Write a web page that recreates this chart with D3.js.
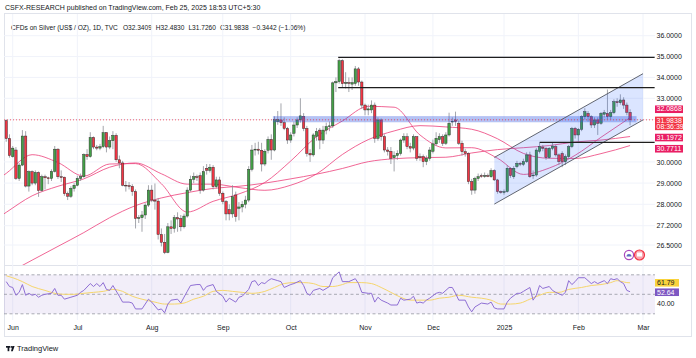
<!DOCTYPE html>
<html><head><meta charset="utf-8">
<script src="https://cdn.jsdelivr.net/npm/d3@7"></script>
<style>
body{margin:0;background:#fff}
svg{display:block}
text{font-family:"Liberation Sans",Arial,sans-serif}
</style>
</head><body>
<svg id="c" width="696" height="358"></svg>
<script>
// ---------------- DATA ----------------
const titleText = "CSFX-RESEARCH published on TradingView.com, Feb 25, 2025 18:53 UTC+5:30";
const symbolText = "CFDs on Silver (US$ / OZ), 1D, TVC";
const ohlcText = ["O32.3409", "H32.4830", "L31.7260", "C31.9838", "\u22120.3442 (\u22121.06%)"];

// daily candles, bar 0 = 30 May 2024 ... bar 193 = 25 Feb 2025
const opens = [31.95,31.1,30.25,30.56,29.22,29.85,31.22,28.86,29.54,29.0,29.5,28.65,29.3,29.25,29.22,29.55,30.6,29.3,29.28,28.5,
28.38,28.75,28.9,29.22,29.3,30.35,30.25,31.15,30.7,30.65,30.72,31.38,30.7,31.0,31.25,30.1,29.95,28.9,28.88,28.85,
28.6,27.47,27.5,27.6,27.97,28.67,28.2,28.15,26.88,26.6,26.23,27.16,27.1,27.5,27.47,27.16,27.56,28.67,29.18,29.3,
29.35,28.67,29.7,29.6,29.75,28.83,29.15,28.52,28.13,27.8,27.64,28.44,27.85,27.9,28.0,28.2,29.65,30.56,30.6,30.55,
29.9,30.55,31.06,30.56,31.9,31.98,31.85,31.58,31.03,31.35,31.74,31.98,32.14,31.58,30.4,30.33,31.2,31.5,31.03,31.5,
31.66,31.7,33.74,33.8,34.8,33.71,33.75,33.68,33.71,34.41,33.78,32.68,32.45,32.45,32.68,31.11,31.98,31.19,30.56,30.5,
30.2,30.3,30.4,31.03,31.19,30.72,30.65,31.19,30.25,30.25,30.01,30.17,30.5,30.85,31.05,31.19,30.88,31.27,31.9,31.98,
31.82,30.88,30.48,30.4,29.07,28.67,29.22,29.35,29.33,29.35,29.3,29.59,29.15,28.6,28.56,28.6,29.7,29.3,29.78,29.93,
29.88,30.01,30.33,29.35,29.38,30.5,30.7,30.64,30.2,30.64,30.72,30.33,30.4,30.01,30.25,30.72,31.58,31.27,31.54,32.13,
32.29,32.13,31.74,31.98,31.82,32.25,32.29,32.13,32.32,32.84,32.79,32.92,32.68,32.3409];
const highs = [32.0,31.3,30.75,30.7,29.95,31.5,31.45,29.6,29.6,29.6,29.55,29.4,29.4,29.3,29.65,30.75,30.65,29.6,29.3,28.6,
28.85,29.0,29.35,29.45,30.4,30.6,31.4,31.2,30.8,30.85,31.7,31.4,31.2,31.45,31.35,30.3,30.05,29.1,29.05,28.95,
28.7,27.6,27.75,28.05,28.9,28.9,28.98,28.3,27.1,26.9,27.3,27.4,27.6,27.7,27.6,27.65,28.8,29.35,29.5,29.4,
29.5,29.8,29.9,29.9,29.85,29.3,29.3,28.6,28.2,28.0,28.9,28.6,28.1,28.15,28.4,29.8,30.8,30.9,30.95,30.9,
30.6,31.2,31.3,32.15,32.4,32.76,32.1,31.65,31.4,31.9,32.1,33.0,32.3,31.7,30.6,31.35,31.6,31.6,31.7,31.85,
31.9,33.8,34.0,34.9,34.87,34.25,34.0,34.0,34.55,34.5,33.85,32.75,32.7,32.9,32.8,32.1,32.05,31.3,30.7,30.7,
30.5,30.55,31.1,31.35,31.35,30.9,31.3,31.2,30.4,30.35,30.3,30.7,31.05,31.4,31.35,31.3,31.4,32.32,32.1,32.37,
31.95,31.0,30.6,30.45,29.2,29.3,29.45,29.45,29.5,29.45,29.7,29.65,29.2,28.65,28.7,29.85,29.75,29.8,30.05,30.0,
30.15,30.45,30.48,29.6,30.65,30.95,30.8,30.7,30.7,30.9,30.8,30.4,30.5,30.35,30.8,31.65,31.65,31.6,32.2,32.53,
32.4,32.2,32.1,32.1,32.35,32.45,33.42,32.45,32.95,33.0,33.19,33.05,32.8,32.483];
const lows = [30.95,30.2,30.2,29.15,29.1,29.8,28.8,28.6,28.9,28.9,28.35,28.6,28.7,28.95,29.1,29.5,29.2,29.05,28.4,28.2,
28.3,28.6,28.85,29.1,29.25,30.1,30.2,30.6,30.55,30.55,30.65,30.45,30.6,30.6,30.0,29.7,28.85,28.6,28.7,28.4,
27.1,27.3,26.98,27.45,27.9,28.1,27.8,26.7,26.45,26.17,26.2,26.9,26.95,26.98,27.0,27.1,27.5,28.6,29.0,29.1,
28.5,28.6,29.4,29.5,28.7,28.75,28.4,28.0,27.4,27.4,27.5,27.35,27.4,27.7,27.85,28.1,29.55,30.3,30.35,29.55,
29.8,30.4,30.1,30.5,31.75,31.7,31.5,30.85,30.9,31.2,31.6,31.85,31.45,30.25,30.0,30.25,31.0,30.6,30.85,31.3,
31.45,31.6,33.3,33.7,33.5,33.47,33.3,33.4,33.6,33.6,32.5,32.2,32.2,32.3,30.9,31.0,31.0,30.45,30.3,29.9,
29.55,30.1,30.3,30.9,30.6,30.45,30.55,30.05,30.05,29.75,29.85,30.05,30.4,30.75,30.9,30.75,30.8,31.2,31.7,31.7,
30.8,30.3,30.25,28.95,28.45,28.5,29.1,29.25,29.25,29.28,29.25,29.1,28.5,28.5,28.45,28.55,29.25,29.2,29.7,29.8,
29.8,29.95,29.25,29.2,29.3,30.4,30.5,30.1,30.15,30.55,30.25,29.85,29.75,29.85,30.15,30.65,31.1,30.95,31.45,32.0,
31.9,31.6,31.6,31.27,31.75,32.1,32.0,32.0,32.25,32.6,32.7,32.5,32.2,31.726];
const closes = [31.1,30.3,30.65,29.22,29.85,31.22,28.86,29.54,29.0,29.5,28.65,29.3,29.25,29.22,29.55,30.6,29.3,29.28,28.5,28.38,
28.75,28.9,29.22,29.3,30.35,30.25,31.15,30.7,30.65,30.72,31.38,30.7,31.0,31.25,30.1,29.95,28.9,28.88,28.85,28.6,
27.47,27.5,27.6,27.97,28.67,28.2,28.15,26.88,26.6,26.23,27.16,27.1,27.5,27.45,27.16,27.56,28.67,29.18,29.3,29.28,
28.67,29.54,29.6,29.75,28.83,29.15,28.52,28.13,27.64,27.64,28.36,27.54,27.9,28.0,28.2,29.65,30.56,30.6,30.55,29.9,
30.5,31.06,30.56,32.0,32.0,31.85,31.58,31.03,31.27,31.74,31.98,32.17,31.58,30.4,30.33,31.27,31.43,31.03,31.5,31.66,
31.7,33.74,33.8,34.8,33.7,33.75,33.72,33.75,34.41,33.78,32.68,32.45,32.5,32.68,31.11,31.98,31.19,30.56,30.5,30.17,
30.3,30.4,31.03,31.19,30.72,30.65,31.19,30.17,30.2,30.01,30.17,30.56,30.85,31.11,31.19,30.88,31.27,31.82,31.92,31.9,
30.88,30.48,30.4,29.07,28.67,29.22,29.3,29.33,29.35,29.33,29.59,29.15,28.6,28.56,28.6,29.7,29.35,29.7,29.93,29.9,
30.01,30.33,29.3,29.38,30.56,30.72,30.64,30.2,30.64,30.75,30.33,30.01,30.01,30.25,30.72,31.58,31.27,31.54,32.13,32.37,
32.13,31.74,31.98,31.82,32.29,32.32,32.13,32.32,32.84,32.79,32.92,32.68,32.34,31.9838];

// moving averages (20 / 50 / 100), read at sample bars
const maIdx  = [-1,0,8,16,24,32,40,48,56,64,72,80,88,96,104,112,120,128,136,144,152,160,168,176,184,193];
const ma20   = [29.35,29.46,30.34,29.97,29.33,29.9,29.92,28.97,27.71,28.14,28.49,29.03,30.04,31.19,31.93,32.62,32.58,31.27,30.66,30.67,30.17,29.41,29.71,30.31,31.16,32.0868];
const ma50   = [27.62,27.7,28.4,28.85,29.2,29.75,29.95,29.44,28.95,28.95,28.79,28.66,28.9,29.43,30.35,31.05,31.46,31.71,31.65,31.54,31.09,30.4,30.17,30.16,30.39,30.7711];
const ma100  = [25.39,25.45,25.95,26.45,26.95,27.5,27.95,28.3,28.55,28.75,28.85,29.0,29.2,29.42,29.69,30.01,30.15,30.2,30.22,30.42,30.58,30.67,30.77,30.94,31.03,31.1972];

// RSI and its MA
const rsiIdx = [0,1,2,3,4,5,6,7,8,9,10,11,12,14,15,16,17,18,20,22,23,24,26,27,28,29,30,31,32,33,35,36,38,39,40,42,44,45,47,48,49,50,51,53,54,56,57,59,60,61,62,64,65,67,68,69,71,72,73,75,76,77,78,79,80,81,82,84,85,86,88,89,91,92,93,94,95,97,98,100,101,102,103,104,106,108,109,110,112,113,114,115,116,118,119,121,122,123,125,126,127,128,129,130,131,133,134,135,137,138,139,140,142,143,144,145,147,149,150,151,152,154,155,156,158,159,160,162,163,164,165,166,168,169,170,172,173,174,175,176,177,179,180,181,182,183,185,186,187,188,189,190,191,192,193];
const rsiVal = [63,58,57,49,52,60,49,51,49,50,47,49,50,51,56,49,49,45,47,49,52,54,61,58,61,58,62,55,54,59,48,42,42,41,35,35,45,42,34,35,31,40,44,45,41,53,59,60,60,54,58,60,53,48,42,46,42,47,48,55,63,64,59,62,61,64,66,64,63,57,60,61,64,59,51,49,54,56,54,58,67,70,73,63,63,66,61,52,51,51,42,47,44,41,39,39,46,44,45,48,41,42,41,44,46,51,52,51,57,57,51,44,44,37,32,37,41,40,42,36,35,35,42,46,51,51,53,57,44,49,59,56,58,54,52,49,52,64,60,63,67,67,64,61,63,61,64,61,66,65,66,63,61,54,52.64];
const rsiMaIdx = [0,2,5,8,12,15,18,21,24,27,30,33,36,39,42,46,49,52,55,58,61,64,67,70,73,76,80,83,86,89,92,95,98,101,104,106,110,113,116,119,122,125,128,131,134,137,140,144,147,150,153,156,159,162,165,168,171,174,178,181,184,187,189,192,193];
const rsiMaVal = [69,67,63,58,54,51,50,50,51,52,53,55,53,48,45,42,40,40,41,45,48,53,54,53,52,51,53,57,61,62,62,61,58,58,60,62,62,61,57,52,47,44,44,44,46,47,49,47,46,44,40,40,41,45,49,52,52,55,57,59,60,62,64,62,61.79];
const rsiLast = {rsi: 52.64, ma: 61.79};

// axis ticks
const priceTicks = [36,35,34,33,30,29,28,27.2,26.5];
const priceGrid  = [36,35,34,33,32,31,30,29,28,27.2,26.5];
const monthIdx   = [2,22,45,67,88,111,132,154,177,197];
const monthNames = ["Jun","Jul","Aug","Sep","Oct","Nov","Dec","2025","Feb","Mar"];

// drawings
const levelLines = [{from:102.7, to:200.6, price:34.96},{from:102.7, to:200.6, price:33.51},{from:165.1, to:200.6, price:30.92}];
const zoneBand = {from:82.5, to:195, top:32.16, bottom:31.87};
const channel = {from:151, to:197, lowStart:28.01, lowEnd:31.98, width:2.2};
const lastClose = 31.9838;
const countdown = "08:36:39";

// ---------------- DRAW ----------------
const svg = d3.select("#c");
const L = 4, R = 655, T = 13, MB = 265, RT = 266, RB = 320;
const x = d3.scaleLinear().domain([0,197]).range([6.24,643]);
const y = d3.scaleLinear().domain([36,33,28,27.2,26.5]).range([35.7,98.3,204.3,225.7,245]);
const yr = d3.scaleLinear().domain([30,70]).range([313.8,274.8]);

const defs = svg.append("defs");
defs.append("clipPath").attr("id","mainClip").append("rect").attr("x",L).attr("y",T).attr("width",R-L).attr("height",MB-T);
defs.append("clipPath").attr("id","rsiClip").append("rect").attr("x",L).attr("y",RT).attr("width",R-L).attr("height",RB-RT);

// frame
svg.append("rect").attr("x",4.5).attr("y",13.5).attr("width",687).attr("height",323).attr("fill","none").attr("stroke","#e0e3eb");
svg.append("line").attr("x1",4).attr("x2",692).attr("y1",265.5).attr("y2",265.5).attr("stroke","#e0e3eb");

// header
svg.append("text").attr("x",5).attr("y",9.5).attr("font-size",7).attr("fill","#131722").text(titleText);
const hdr = svg.append("text").attr("x",11).attr("y",29.5).attr("font-size",6.6).attr("fill","#131722");
hdr.append("tspan").text(symbolText);
ohlcText.forEach((t,i)=>hdr.append("tspan").attr("dx", i===0?5:4).attr("fill", "#131722").text(t));

// grid
const grid = svg.append("g").attr("stroke","#f0f3fa").attr("stroke-width",1);
monthIdx.forEach(m=>{ grid.append("line").attr("x1",x(m)).attr("x2",x(m)).attr("y1",T+1).attr("y2",RB); });
priceGrid.forEach(p=>{ grid.append("line").attr("x1",L).attr("x2",R).attr("y1",y(p)).attr("y2",y(p)); });

const main = svg.append("g").attr("clip-path","url(#mainClip)");

// moving averages
const maLine = d3.line().x(d=>x(d[0])).y(d=>y(d[1])).curve(d3.curveMonotoneX);
[ma20, ma50, ma100].forEach(arr=>{
  main.append("path").datum(maIdx.map((k,i)=>[k,arr[i]])).attr("d",maLine)
    .attr("fill","none").attr("stroke","#ec407a").attr("stroke-opacity",0.8).attr("stroke-width",1);
});

// candles
const bw = 2.4;
const cg = main.append("g");
closes.forEach((c,i)=>{
  const o = opens[i], h = highs[i], l = lows[i];
  const cx = x(i);
  cg.append("line").attr("x1",cx).attr("x2",cx).attr("y1",y(h)).attr("y2",y(l)).attr("stroke","#8d8f97").attr("stroke-width",0.8);
  const top = y(Math.max(o,c)), bot = y(Math.min(o,c));
  cg.append("rect").attr("x",cx-bw/2).attr("y",top).attr("width",bw).attr("height",Math.max(0.8,bot-top))
    .attr("fill", c>=o ? "#43a047" : "#f23645").attr("stroke","#2a2a2a").attr("stroke-width",0.45);
});

// zone band
main.append("rect").attr("x",x(zoneBand.from)).attr("width",x(zoneBand.to)-x(zoneBand.from))
  .attr("y",y(zoneBand.top)).attr("height",y(zoneBand.bottom)-y(zoneBand.top))
  .attr("fill","rgba(50,85,225,0.36)");

// channel
const c0 = channel.from, c1 = channel.to;
const poly = [[c0,channel.lowStart],[c1,channel.lowEnd],[c1,channel.lowEnd+channel.width],[c0,channel.lowStart+channel.width]];
main.append("path").attr("d", d3.line().x(d=>x(d[0])).y(d=>y(d[1]))(poly)+"Z").attr("fill","rgba(41,98,255,0.17)");
[[0],[channel.width]].forEach(([off])=>{
  main.append("line").attr("x1",x(c0)).attr("y1",y(channel.lowStart+off)).attr("x2",x(c1)).attr("y2",y(channel.lowEnd+off))
    .attr("stroke","#505560").attr("stroke-width",0.9);
});

// level lines
levelLines.forEach(d=>{
  main.append("line").attr("x1",x(d.from)).attr("x2",x(d.to)).attr("y1",y(d.price)).attr("y2",y(d.price))
    .attr("stroke","#1e1e1e").attr("stroke-width",1.4);
});

// last price dotted
main.append("line").attr("x1",L).attr("x2",R).attr("y1",y(lastClose)).attr("y2",y(lastClose))
  .attr("stroke","#f23645").attr("stroke-width",0.8).attr("stroke-dasharray","1,2");

// event icons
const ev = svg.append("g");
ev.append("circle").attr("cx",629).attr("cy",255).attr("r",4.6).attr("fill","#fff").attr("stroke","#ab47bc").attr("stroke-width",1.2);
ev.append("path").attr("d","M626.5,256.5 A2.5,2.5 0 0 1 631.5,256.5 Z").attr("fill","#5c6bc0");
ev.append("circle").attr("cx",639.5).attr("cy",255).attr("r",5).attr("fill","#f8a5b0").attr("stroke","#f23645").attr("stroke-width",1.2);
ev.append("path").attr("d","M637,252.5 h5 v4 h-5 Z").attr("fill","#fff");

// price axis
const ya = svg.append("g").attr("transform",`translate(${R},0)`)
  .call(d3.axisRight(y).tickValues(priceTicks).tickFormat(d3.format(".4f")).tickSize(0).tickPadding(1.5));
ya.select(".domain").remove();
ya.selectAll("text").attr("font-size",7).attr("fill","#131722").attr("font-family","Liberation Sans, Arial, sans-serif");

// price labels (stacked like TradingView)
const lg = svg.append("g").attr("font-size",7).attr("fill","#fff");
const bh = 7.6, gap = 3.6, lx = 655, lw = 28;
const cTop = y(lastClose) - 3.2, cH = 13.5;
lg.append("rect").attr("x",lx).attr("y",cTop).attr("width",lw).attr("height",cH).attr("fill","#f23645");
lg.append("text").attr("x",lx+1.5).attr("y",cTop+6).text(d3.format(".4f")(lastClose));
lg.append("text").attr("x",lx+1.5).attr("y",cTop+12.3).text(countdown);
const maLast = [ma20[ma20.length-1], ma100[ma100.length-1], ma50[ma50.length-1]];
let above = cTop, below = cTop + cH;
maLast.filter(v=>v>lastClose).sort((a,b)=>a-b).forEach(v=>{
  let bot = Math.min(y(v)+bh/2, above-gap); const top = bot-bh; above = top;
  lg.append("rect").attr("x",lx).attr("y",top).attr("width",lw).attr("height",bh).attr("fill","#e91e63");
  lg.append("text").attr("x",lx+1.5).attr("y",top+6).text(d3.format(".4f")(v));
});
maLast.filter(v=>v<=lastClose).sort((a,b)=>b-a).forEach(v=>{
  let top = Math.max(y(v)-bh/2, below+gap); below = top+bh;
  lg.append("rect").attr("x",lx).attr("y",top).attr("width",lw).attr("height",bh).attr("fill","#e91e63");
  lg.append("text").attr("x",lx+1.5).attr("y",top+6).text(d3.format(".4f")(v));
});

// ---------------- RSI pane ----------------
const rg = svg.append("g").attr("clip-path","url(#rsiClip)");
rg.append("rect").attr("x",L).attr("width",R-L).attr("y",yr(70)).attr("height",yr(30)-yr(70)).attr("fill","rgba(126,87,194,0.1)");
[70,50,30].forEach(v=>{
  rg.append("line").attr("x1",L).attr("x2",R).attr("y1",yr(v)).attr("y2",yr(v))
    .attr("stroke","#9598a1").attr("stroke-width",0.8).attr("stroke-dasharray","3,2.5");
});
rg.append("path").datum(rsiMaIdx.map((k,i)=>[k,rsiMaVal[i]])).attr("d",d3.line().x(d=>x(d[0])).y(d=>yr(d[1])).curve(d3.curveMonotoneX))
  .attr("fill","none").attr("stroke","#f6d66c").attr("stroke-width",1);
rg.append("path").datum(rsiIdx.map((k,i)=>[k,rsiVal[i]])).attr("d",d3.line().x(d=>x(d[0])).y(d=>yr(d[1])))
  .attr("fill","none").attr("stroke","#8f6fd4").attr("stroke-width",1);

// RSI labels
const rlb = svg.append("g").attr("font-size",7);
rlb.append("rect").attr("x",655).attr("y",yr(rsiLast.ma)-3.8).attr("width",24).attr("height",7.6).attr("fill","#f9d33d");
rlb.append("text").attr("x",657).attr("y",yr(rsiLast.ma)+2.4).attr("fill","#131722").text(rsiLast.ma.toFixed(2));
rlb.append("rect").attr("x",655).attr("y",yr(rsiLast.rsi)-3.3).attr("width",24).attr("height",7.6).attr("fill","#7e57c2");
rlb.append("text").attr("x",657).attr("y",yr(rsiLast.rsi)+2.9).attr("fill","#fff").text(rsiLast.rsi.toFixed(2));
rlb.append("text").attr("x",657).attr("y",yr(40)+2.4).attr("fill","#131722").text((40).toFixed(2));

// time axis
const xa = svg.append("g").attr("transform","translate(0,322)")
  .call(d3.axisBottom(x).tickValues(monthIdx).tickFormat((d,i)=>monthNames[i]).tickSize(0).tickPadding(3.5));
xa.select(".domain").remove();
xa.selectAll("text").attr("font-size",7).attr("fill","#131722").attr("font-family","Liberation Sans, Arial, sans-serif");

// TradingView logo
const logo = svg.append("g").attr("fill","#131722");
logo.append("rect").attr("x",6).attr("y",346).attr("width",4).attr("height",1.7);
logo.append("rect").attr("x",7.6).attr("y",346).attr("width",1.7).attr("height",5.2);
logo.append("circle").attr("cx",11.3).attr("cy",346.9).attr("r",0.9);
logo.append("path").attr("d","M12.3,346 L14.6,346 L12.8,351.2 L11,351.2 Z");
svg.append("text").attr("x",17).attr("y",351.2).attr("font-size",7.5).attr("fill","#131722").text("TradingView");
</script>
</body></html>
